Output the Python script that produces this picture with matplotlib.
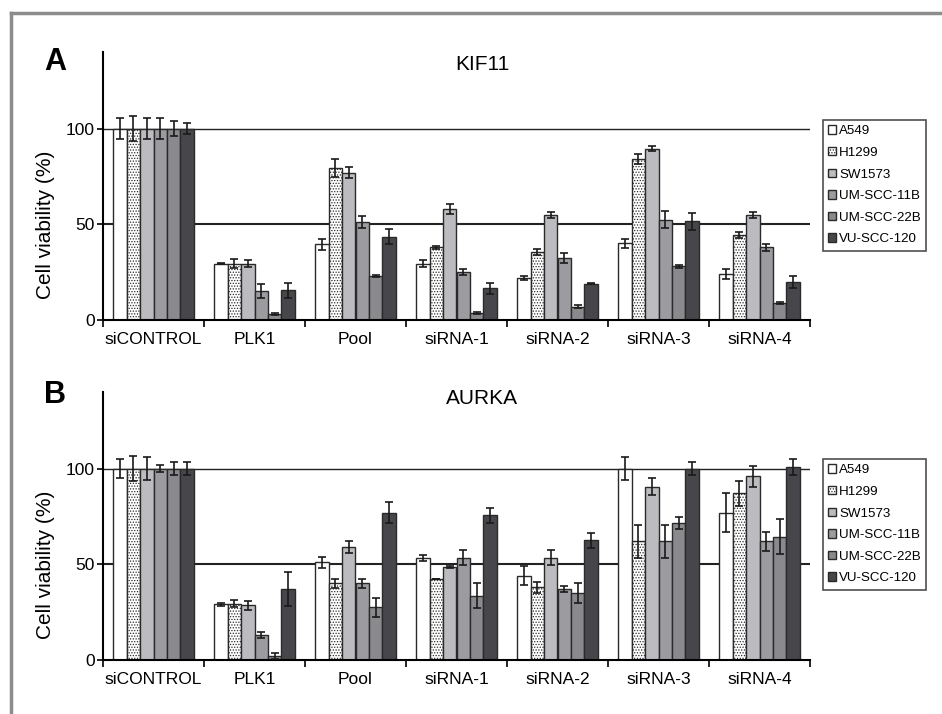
import matplotlib
matplotlib.use("Agg")
import matplotlib.pyplot as plt
from matplotlib.patches import Patch
from matplotlib.lines import Line2D
import numpy as np

plt.rcParams['font.family'] = ['Liberation Sans', 'DejaVu Sans']
plt.rcParams['hatch.linewidth'] = 0.6

categories = ["siCONTROL", "PLK1", "Pool", "siRNA-1", "siRNA-2", "siRNA-3", "siRNA-4"]
cell_lines = ["A549", "H1299", "SW1573", "UM-SCC-11B", "UM-SCC-22B", "VU-SCC-120"]

# KIF11 (panel A): one row per cell line, one value per category
kif11_vals = [
    [100, 29.5, 39.5, 29.5, 22, 40, 24],
    [100, 29.5, 79.5, 38, 35.5, 84, 44.5],
    [100, 29.5, 77, 58, 55, 89.5, 55],
    [100, 15, 51, 25, 32.5, 52.5, 38],
    [100, 3, 23, 3.5, 7, 28, 9],
    [100, 15.5, 43.5, 16.5, 19, 51.5, 20],
]
kif11_err = [
    [5.5, 0.5, 3, 2, 1.2, 2.5, 2.5],
    [6.5, 2.5, 4.8, 0.8, 1.7, 2.6, 1.6],
    [5.5, 2, 3, 2.8, 1.5, 1.3, 1.5],
    [5.5, 3.7, 3.2, 1.7, 2.6, 4.2, 1.7],
    [4, 0.4, 0.4, 0.6, 0.6, 0.9, 0.5],
    [3, 4, 4, 2.7, 0.3, 4.4, 3.1],
]

# AURKA (panel B)
aurka_vals = [
    [100, 29, 51, 53.5, 44, 100, 77],
    [100, 29.5, 40, 42.5, 38, 62, 87],
    [100, 28.5, 59, 48.5, 53.5, 90.5, 96],
    [100, 13, 40, 53.5, 37, 62, 62],
    [100, 2, 27.5, 33.5, 35, 71.5, 64.5],
    [100, 37, 77, 75.5, 62.5, 100, 101],
]
aurka_err = [
    [5, 1, 3, 1.6, 5, 6, 10],
    [6.5, 1.8, 2.5, 0, 2.8, 8.5, 6.5],
    [5.8, 2.5, 3, 0.4, 3.8, 4.5, 5.5],
    [1.7, 1.7, 2.5, 4, 1.4, 8.5, 5],
    [3.5, 1.4, 5, 6.5, 5, 3.2, 9],
    [3.5, 9, 5.4, 4, 4, 3.5, 4.2],
]

colors = ["white", "white", "#bcbcc0", "#9c9ca0", "#8a8a8e", "#47474b"]
hatches = [None, "......", None, None, None, None]

fig = plt.figure(figsize=(9.42, 7.14), dpi=100)

# grey frame around the figure
fig.add_artist(Line2D([11/942, 1], [1-13/714, 1-13/714], color="#8c8c8c", lw=2.5))
fig.add_artist(Line2D([11/942, 11/942], [0, 1-13/714], color="#8c8c8c", lw=2.5))


def panel(rect, vals, errs, letter, title, title_y, legend_y):
    ax = fig.add_axes(rect)
    n = len(cell_lines)
    w = 0.8 / n
    x = np.arange(len(categories)) + 0.5
    for j in range(n):
        ax.bar(x + (j - (n-1)/2) * w, vals[j], w, color=colors[j], edgecolor="#2a2a2a",
               linewidth=1.0, hatch=hatches[j], zorder=2)
        ax.errorbar(x + (j - (n-1)/2) * w, vals[j], yerr=errs[j], fmt="none",
                    ecolor="#1a1a1a", elinewidth=1.2, capsize=3, capthick=1.2, zorder=3)
    ax.axhline(100, color="#222222", lw=1.0, zorder=1)
    ax.axhline(50, color="#222222", lw=1.5, zorder=1)
    ax.set_xlim(0, 7)
    ax.set_ylim(0, 140)
    ax.spines["top"].set_visible(False)
    ax.spines["right"].set_visible(False)
    ax.spines["left"].set_linewidth(1.5)
    ax.spines["bottom"].set_linewidth(1.5)
    ax.set_yticks([0, 50, 100])
    ax.tick_params(axis="y", labelsize=12.5, length=4, width=1.2, pad=2)
    ax.set_xticks(np.arange(8))
    ax.set_xticklabels([])
    ax.set_xticks(x, minor=True)
    ax.set_xticklabels(categories, minor=True)
    ax.tick_params(axis="x", which="major", length=5, width=1.2)
    ax.tick_params(axis="x", which="minor", length=0, labelsize=12.5, pad=9)
    ax.set_ylabel("Cell viability (%)", fontsize=15)
    ax.yaxis.set_label_coords(-0.068, 0.354)
    fig.text(44/942, title_y + 0.004, letter, fontsize=22, fontweight="bold", va="center")
    fig.text(482/942, title_y, title, fontsize=15, ha="center", va="center")
    handles = [Patch(facecolor=colors[j], edgecolor="#2a2a2a", hatch=hatches[j], label=cell_lines[j])
               for j in range(n)]
    leg = fig.legend(handles=handles, loc="upper left", bbox_to_anchor=(823/942, legend_y),
                     fontsize=9.6, frameon=True, fancybox=False, edgecolor="#222222",
                     handlelength=0.6, handleheight=0.6, handletextpad=0.2,
                     labelspacing=0.72, borderpad=0.4, borderaxespad=0)
    leg.get_frame().set_linewidth(1.2)
    return ax


panel([103/942, 1-320/714, 707/942, 268/714], kif11_vals, kif11_err, "A", "KIF11",
      1-65/714, 1-120/714)
panel([103/942, 1-660/714, 707/942, 268/714], aurka_vals, aurka_err, "B", "AURKA",
      1-398/714, 1-459/714)

plt.savefig("out.png", dpi=100)
